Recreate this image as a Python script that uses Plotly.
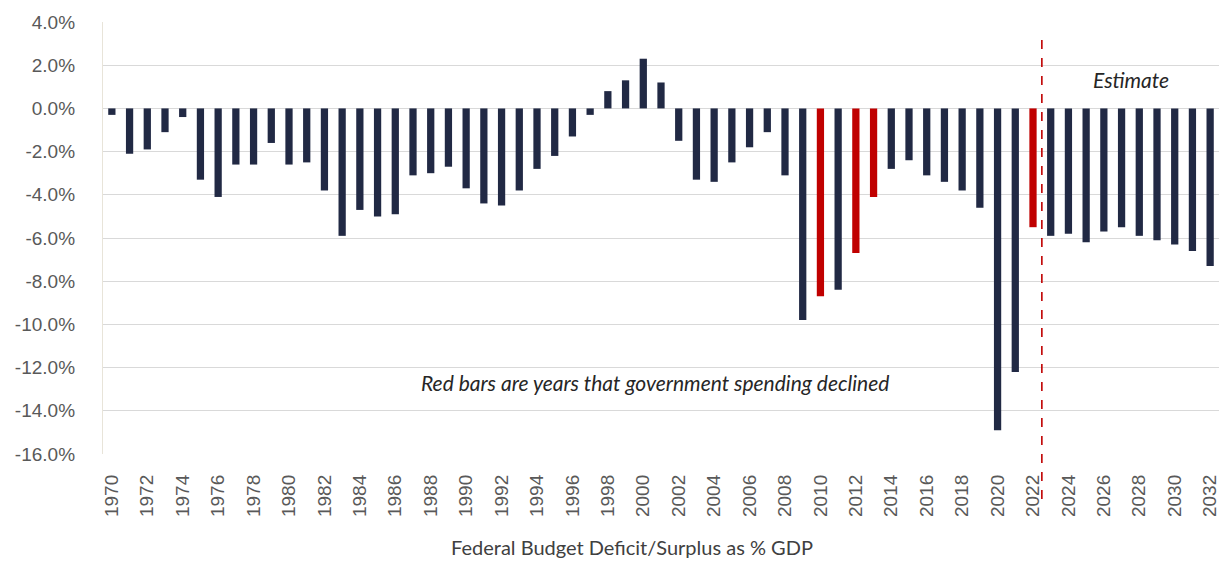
import plotly.graph_objects as go

years = list(range(1970, 2033))
balance_pct = [
    -0.3, -2.1, -1.9, -1.1, -0.4, -3.3, -4.1, -2.6, -2.6, -1.6,
    -2.6, -2.5, -3.8, -5.9, -4.7, -5.0, -4.9, -3.1, -3.0, -2.7,
    -3.7, -4.4, -4.5, -3.8, -2.8, -2.2, -1.3, -0.3, 0.8, 1.3,
    2.3, 1.2, -1.5, -3.3, -3.4, -2.5, -1.8, -1.1, -3.1, -9.8,
    -8.7, -8.4, -6.7, -4.1, -2.8, -2.4, -3.1, -3.4, -3.8, -4.6,
    -14.9, -12.2, -5.5, -5.9, -5.8, -6.2, -5.7, -5.5, -5.9, -6.1,
    -6.3, -6.6, -7.3,
]
spending_decline_years = [2010, 2012, 2013, 2022]
estimate_start = 2022.5
y_ticks = [4, 2, 0, -2, -4, -6, -8, -10, -12, -14, -16]

NAVY = "#212944"
RED = "#C00000"
colors = [RED if y in spending_decline_years else NAVY for y in years]

x_range = [years[0] - 0.5, years[-1] + 0.5]
y_range = [-16, 4]

W, H = 1222, 561
ML, MR, MT, MB = 103, 3, 22, 107
plot_h = H - MT - MB

fig = go.Figure()
fig.add_trace(go.Bar(
    x=years, y=balance_pct, marker=dict(color=colors, line=dict(width=0)),
    width=0.41, hoverinfo="x+y",
))

tick_font = "Liberation Sans, Arial, sans-serif"
text_font = "Lato, Open Sans, sans-serif"
fig.update_layout(
    width=W, height=H,
    margin=dict(l=ML, r=MR, t=MT, b=MB),
    plot_bgcolor="white", paper_bgcolor="white",
    showlegend=False,
    font=dict(family=tick_font, color="#595959"),
    xaxis=dict(
        range=x_range, tickmode="linear", tick0=1970, dtick=2,
        tickangle=-90, showgrid=False, zeroline=False,
        tickfont=dict(size=19, color="#595959", family=tick_font),
        ticks="", showline=False, fixedrange=True, ticklabelstandoff=16,
    ),
    yaxis=dict(
        range=y_range, tickvals=y_ticks,
        ticktext=[f"{v:.1f}%" for v in y_ticks],
        showgrid=True, gridcolor="#D9D9D9", gridwidth=1.3,
        zeroline=False, showline=True, linecolor="#E8E4D9", linewidth=1.3,
        tickfont=dict(size=19, color="#595959", family=tick_font), ticks="",
        ticklabelstandoff=23, fixedrange=True,
    ),
)

frac = (estimate_start - x_range[0]) / (x_range[1] - x_range[0])
line_top = 3.4   # data value where the dashed line starts
fig.add_shape(
    type="line", xref="x domain", yref="paper",
    x0=frac, x1=frac,
    y0=-(499 - (H - MB)) / plot_h,
    y1=(line_top - y_range[0]) / (y_range[1] - y_range[0]),
    line=dict(color=RED, width=1.6, dash="dash"), layer="above",
)

fig.add_annotation(
    x=2000.64, y=-12.67, xref="x", yref="y",
    text="<i>Red bars are years that government spending declined</i>",
    showarrow=False, xanchor="center", yanchor="middle",
    font=dict(size=21, color="#262626", family=text_font),
)
fig.add_annotation(
    x=2027.56, y=1.32, xref="x", yref="y",
    text="<i>Estimate</i>",
    showarrow=False, xanchor="center", yanchor="middle",
    font=dict(size=21, color="#262626", family=text_font),
)
fig.add_annotation(
    x=(632 - ML) / (W - ML - MR), y=-(547 - (H - MB)) / plot_h,
    xref="paper", yref="paper",
    text="Federal Budget Deficit/Surplus as % GDP",
    showarrow=False, xanchor="center", yanchor="middle",
    font=dict(size=20, color="#404040", family=text_font),
)

fig.write_html("out.html")
